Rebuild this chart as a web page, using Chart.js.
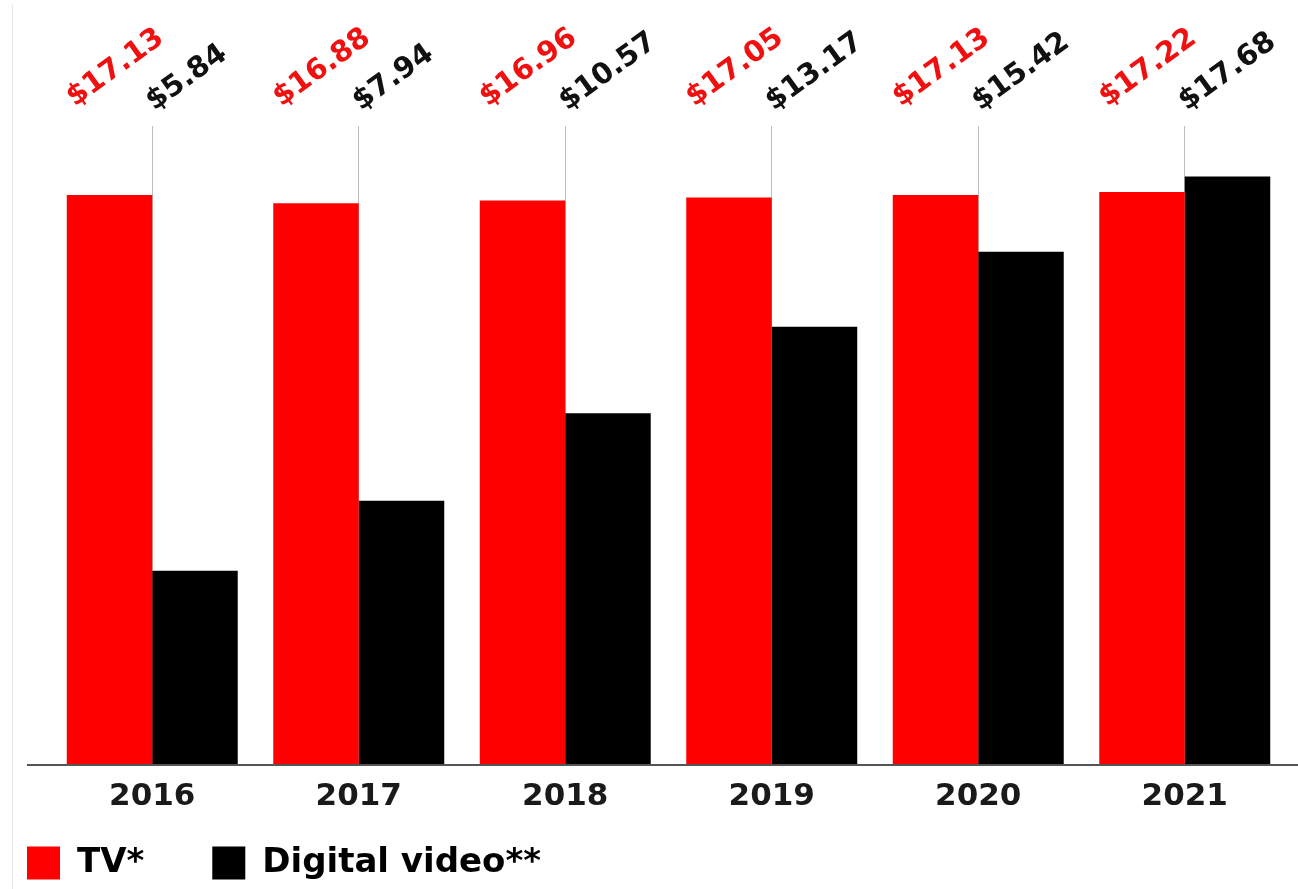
<!DOCTYPE html>
<html><head><meta charset="utf-8">
<script src="https://cdn.jsdelivr.net/npm/chart.js@4"></script>
<style>html,body{margin:0;padding:0;background:#fff;overflow:hidden}#wrap{width:1298px;height:889px;position:relative}</style>
</head><body><div id="wrap"><canvas id="c" width="1298" height="889"></canvas></div>
<script>
const categories = ['2016', '2017', '2018', '2019', '2020', '2021'];
const tvValues = [17.13, 16.88, 16.96, 17.05, 17.13, 17.22];
const digitalValues = [5.84, 7.94, 10.57, 13.17, 15.42, 17.68];
const seriesNames = ['TV*', 'Digital video**'];
const valuePrefix = '$';

const FONT = '"DejaVu Sans", "Liberation Sans", sans-serif';

const decorPlugin = {
  id: 'decor',
  beforeLayout(chart) {
    const lg = chart.legend;
    if (lg && !lg._patched) {
      lg._patched = true;
      const of = lg.fit;
      lg.fit = function () { of.call(this); this.height = 45; };
      const od = lg.draw;
      lg.draw = function () {
        const t = this.top, l = this.left;
        const p = this.options.labels.padding;
        this.top = t - p + 2;
        this.left = 27 - p;
        od.apply(this, arguments);
        this.top = t; this.left = l;
      };
    }
  },
  beforeDraw(chart) {
    const ctx = chart.ctx;
    ctx.save();
    ctx.strokeStyle = '#e6e6e6';
    ctx.lineWidth = 1;
    ctx.beginPath();
    ctx.moveTo(12.5, 5);
    ctx.lineTo(12.5, 889);
    ctx.stroke();
    ctx.restore();
  },
  afterDatasetsDraw(chart) {
    const ctx = chart.ctx;
    const area = chart.chartArea;
    ctx.save();
    ctx.strokeStyle = '#555555';
    ctx.lineWidth = 2;
    ctx.beginPath();
    ctx.moveTo(27, area.bottom);
    ctx.lineTo(1298, area.bottom);
    ctx.stroke();
    ctx.restore();

    chart.data.datasets.forEach((ds, di) => {
      const meta = chart.getDatasetMeta(di);
      meta.data.forEach((bar, i) => {
        const left = bar.x - bar.width / 2;
        const x = left + (di === 0 ? 8 : 2);
        const y = area.top + (di === 0 ? -19 : -15);
        ctx.save();
        ctx.translate(x, y);
        ctx.rotate(-36 * Math.PI / 180);
        ctx.font = 'bold 29px ' + FONT;
        ctx.fillStyle = ds.labelColor;
        ctx.textAlign = 'left';
        ctx.textBaseline = 'alphabetic';
        ctx.fillText(valuePrefix + ds.data[i].toFixed(2), 0, 0);
        ctx.restore();
      });
    });
  }
};

new Chart(document.getElementById('c'), {
  type: 'bar',
  data: {
    labels: categories,
    datasets: [
      { label: seriesNames[0], data: tvValues, backgroundColor: '#ff0000', labelColor: '#f01010', borderWidth: 0 },
      { label: seriesNames[1], data: digitalValues, backgroundColor: '#000000', labelColor: '#111111', borderWidth: 0 }
    ]
  },
  options: {
    responsive: false,
    devicePixelRatio: 1,
    animation: false,
    barPercentage: 1,
    categoryPercentage: 0.828,
    layout: { padding: { left: 17, right: 10, top: 126, bottom: 0 } },
    scales: {
      x: {
        grid: { offset: false, color: '#bdbdbd', lineWidth: 1, drawTicks: false },
        border: { display: false },
        ticks: { color: '#1a1a1a', padding: 13, font: { family: FONT, weight: 'bold', size: 31 } },
        afterFit(s) { s.height = 79; }
      },
      y: {
        min: 0, max: 19.2,
        grid: { display: false },
        border: { display: false },
        ticks: { display: false },
        afterFit(s) { s.width = 32; }
      }
    },
    plugins: {
      tooltip: { enabled: false },
      legend: {
        position: 'bottom',
        align: 'start',
        labels: {
          boxWidth: 33, boxHeight: 33, padding: 68, color: '#000',
          font: { family: FONT, weight: 'bold', size: 34 }
        }
      }
    }
  },
  plugins: [decorPlugin]
});
</script>
</body></html>
